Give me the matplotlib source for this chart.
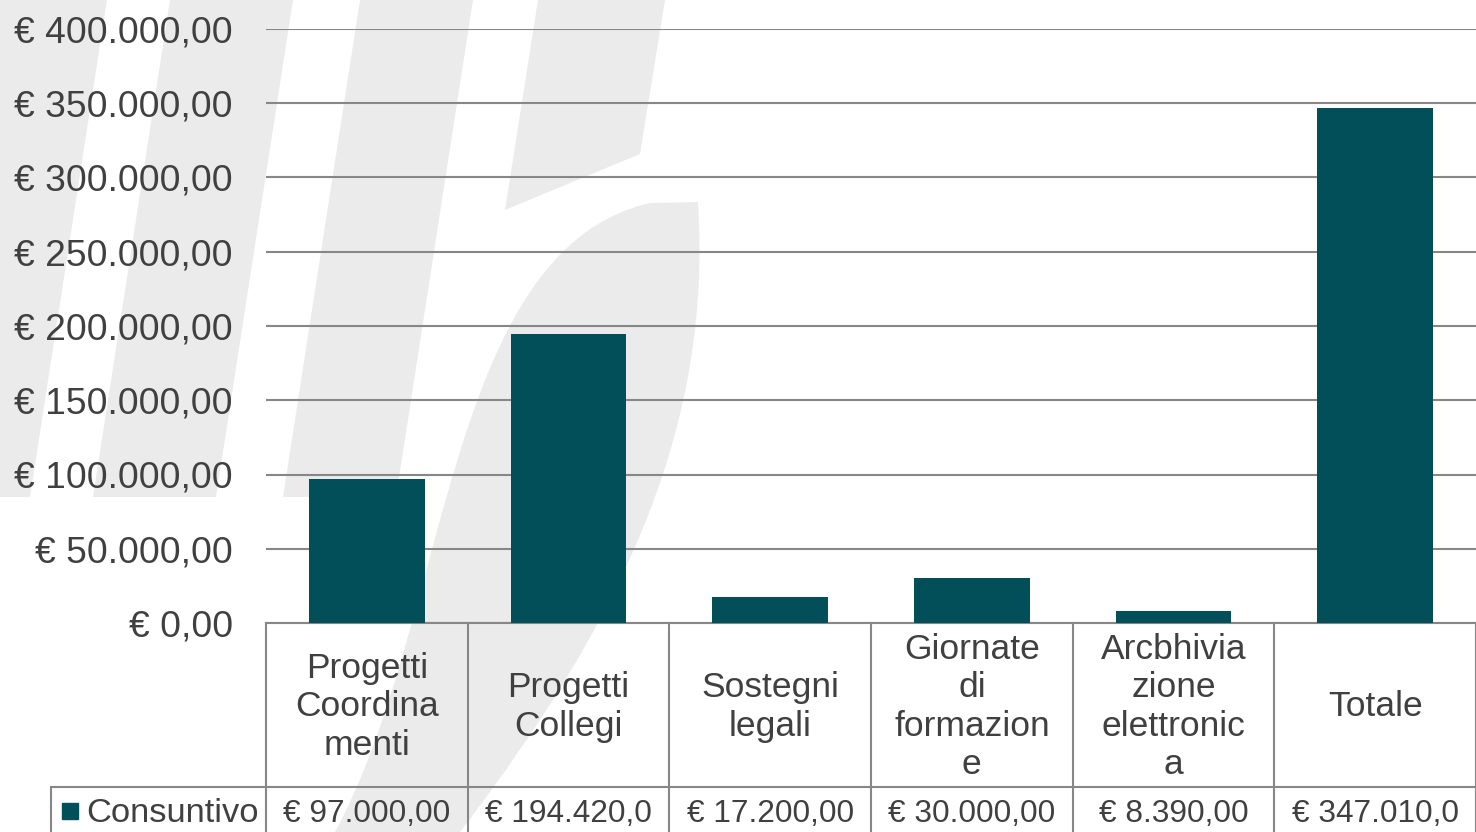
import matplotlib
matplotlib.use('Agg')
import matplotlib.pyplot as plt
from matplotlib.patches import Polygon, PathPatch
from matplotlib.path import Path
from matplotlib.ticker import FuncFormatter

# data
categories = ['Progetti\nCoordina\nmenti', 'Progetti\nCollegi', 'Sostegni\nlegali',
              'Giornate\ndi\nformazion\ne', 'Arcbhivia\nzione\nelettronic\na', 'Totale']
consuntivo = [97000.00, 194420.00, 17200.00, 30000.00, 8390.00, 347010.00]
series_name = 'Consuntivo'
y_ticks = [0, 50000, 100000, 150000, 200000, 250000, 300000, 350000, 400000]

BAR = '#024f5a'
GRID = '#878787'
TEXT = '#404040'
WATERMARK = '#ebebeb'

plt.rcParams['font.family'] = ['Liberation Sans', 'DejaVu Sans']


def euro(v, pos=None):
    s = f'{v:,.2f}'.replace(',', 'X').replace('.', ',').replace('X', '.')
    return '€ ' + s


W, H = 1476, 832
fig = plt.figure(figsize=(W / 100, H / 100), dpi=100)
fig.patch.set_facecolor('white')


def fxy(x, y):
    return (x / W, 1 - y / H)


# faint logo in the background
stripes = [
    [(0, 0), (107, 0), (30, 497), (-77, 497)],
    [(170, 0), (293, 0), (216, 497), (93, 497)],
    [(360, 0), (473, 0), (396, 497), (283, 497)],
    [(538, 0), (665, 0), (640, 154), (505, 210)],
]
for pts in stripes:
    fig.add_artist(Polygon([fxy(x, y) for x, y in pts], closed=True,
                           transform=fig.transFigure, facecolor=WATERMARK,
                           edgecolor='none', zorder=-5))
hook = [(698, 202), (712, 420), (630, 610), (460, 832),
        (335, 832), (450, 620), (445, 250), (650, 203), (698, 202)]
codes = [Path.MOVETO, Path.CURVE4, Path.CURVE4, Path.CURVE4,
         Path.LINETO, Path.CURVE4, Path.CURVE4, Path.CURVE4, Path.CLOSEPOLY]
fig.add_artist(PathPatch(Path([fxy(x, y) for x, y in hook], codes),
                         transform=fig.transFigure, facecolor=WATERMARK,
                         edgecolor='none', zorder=-5))

# plot area (pixels of the reference)
left, top, bottom = 266, 29, 623
ax = fig.add_axes([left / W, 1 - bottom / H, 1 - left / W, (bottom - top) / H])
ax.patch.set_visible(False)

x = range(len(categories))
ax.bar(x, consuntivo, width=0.575, color=BAR, zorder=3)
ax.set_xlim(-0.5, len(categories) - 0.5)
ax.set_ylim(0, 400000)
ax.set_yticks(y_ticks)
ax.yaxis.set_major_formatter(FuncFormatter(euro))
ax.tick_params(axis='y', length=0, pad=24, labelsize=26.8, labelcolor=TEXT)
ax.set_xticks([])
ax.grid(axis='y', color=GRID, lw=1.5, zorder=0)
for s in ['top', 'right', 'left']:
    ax.spines[s].set_visible(False)
ax.spines['bottom'].set_color(GRID)
ax.spines['bottom'].set_linewidth(1.5)

# data table under the axis
ph = bottom - top
pw = W - left


def axy(py):
    return (bottom - py) / ph


def axx(px):
    return (px - left) / pw


xt = ax.get_xaxis_transform()
hdr_bottom = axy(787)
tbl_bottom = axy(850)
line_kw = dict(color=GRID, lw=1.5, clip_on=False)

for i in range(len(categories) + 1):
    ax.plot([i - 0.5, i - 0.5], [0, tbl_bottom], transform=xt, **line_kw)
ax.plot([axx(51), 1], [hdr_bottom, hdr_bottom], transform=ax.transAxes, **line_kw)
ax.plot([axx(51), axx(51)], [hdr_bottom, tbl_bottom], transform=ax.transAxes, **line_kw)

for i, (cat, v) in enumerate(zip(categories, consuntivo)):
    ax.text(i, axy(707), cat, transform=xt, ha='center', va='center',
            fontsize=25.5, color=TEXT, linespacing=1.2)
    # the cell is too narrow, the value is cut like in the original
    ax.text(i, axy(814), euro(v)[:11], transform=xt, ha='center', va='center',
            fontsize=22.8, color=TEXT)

ax.plot([axx(70)], [axy(811)], marker='s', ms=11.5, color=BAR,
        transform=ax.transAxes, clip_on=False)
ax.text(axx(86), axy(814), series_name, transform=ax.transAxes, ha='left',
        va='center', fontsize=24.8, color=TEXT)

fig.savefig('out.png', dpi=100)
